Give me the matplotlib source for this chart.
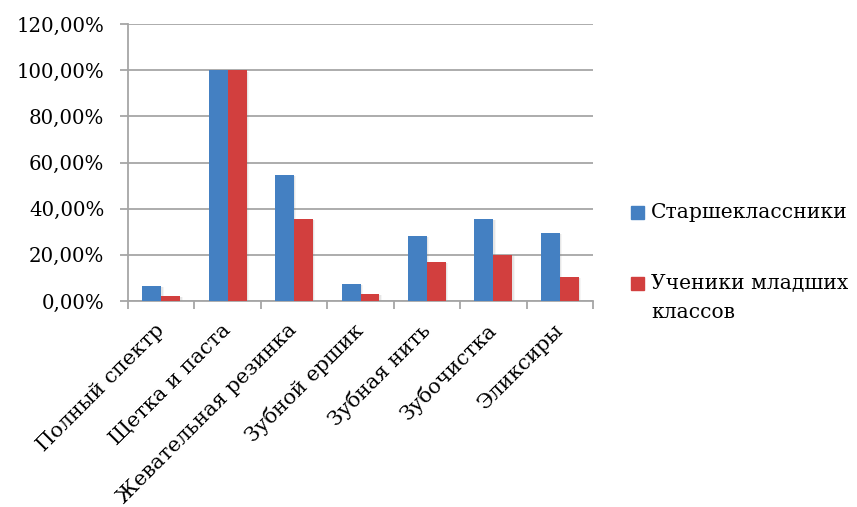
import matplotlib.pyplot as plt
import numpy as np
from matplotlib.patches import Rectangle
from matplotlib.ticker import FuncFormatter

categories = ["Полный спектр", "Щетка и паста", "Жевательная резинка",
              "Зубной ершик", "Зубная нить", "Зубочистка", "Эликсиры"]
seniors = [6.5, 100.0, 54.6, 7.4, 28.2, 35.6, 29.5]
juniors = [2.2, 100.0, 35.6, 3.0, 16.9, 20.1, 10.4]
series_names = ["Старшеклассники", "Ученики младших\nклассов"]

plt.rcParams['font.family'] = ['DejaVu Serif']

W, H = 857, 507
fig = plt.figure(figsize=(W / 100, H / 100), dpi=100)
ax = fig.add_axes([128 / W, 1 - 301 / H, 465 / W, 277 / H])

x = np.arange(len(categories))
w = 0.286
blue, red = '#4480C2', '#D23F3E'
grey = '#a6a6a6'

# soft drop shadow behind the bars
for off, a in [(0.035, 0.08), (0.02, 0.12)]:
    ax.bar(x - w / 2 + off, np.array(seniors) - 0.6, w,
           color='gray', alpha=a, zorder=2, linewidth=0)
    ax.bar(x + w / 2 + off, np.array(juniors) - 0.6, w,
           color='gray', alpha=a, zorder=2, linewidth=0)

ax.bar(x - w / 2, seniors, w, color=blue, zorder=3)
ax.bar(x + w / 2, juniors, w, color=red, zorder=3)

ax.set_xlim(-0.5, len(categories) - 0.5)
ax.set_ylim(0, 120)
ax.set_yticks(np.arange(0, 121, 20))
ax.yaxis.set_major_formatter(FuncFormatter(lambda v, p: f"{v:.2f}%".replace('.', ',')))
ax.grid(axis='y', color=grey, linewidth=1.3, zorder=0)

# category boundaries carry the tick marks, names sit at the centres
ax.set_xticks(np.arange(-0.5, len(categories), 1.0))
ax.set_xticklabels([])
ax.set_xticks(x, minor=True)
ax.set_xticklabels(categories, minor=True, rotation=45, ha='right', va='center',
                   rotation_mode='anchor', fontsize=15)
ax.tick_params(axis='x', which='minor', length=0, pad=19)
ax.tick_params(axis='x', which='major', length=6, color=grey, width=1.3)
ax.tick_params(axis='y', length=6, color=grey, width=1.3, labelsize=14.2, pad=11)

for s in ['top', 'right']:
    ax.spines[s].set_visible(False)
for s in ['left', 'bottom']:
    ax.spines[s].set_color(grey)
    ax.spines[s].set_linewidth(1.3)

# legend at the right
for color, sq_top, lines, line_y in [(blue, 206, series_names[0].split('\n'), [212]),
                                     (red, 277, series_names[1].split('\n'), [283, 312])]:
    fig.patches.append(Rectangle((631 / W, 1 - (sq_top + 13) / H), 13 / W, 13 / H,
                                 transform=fig.transFigure, color=color))
    for txt, ly in zip(lines, line_y):
        fig.text(651 / W, 1 - ly / H, txt, fontsize=14.6, va='center', ha='left')

fig.savefig('out.png', dpi=100)
